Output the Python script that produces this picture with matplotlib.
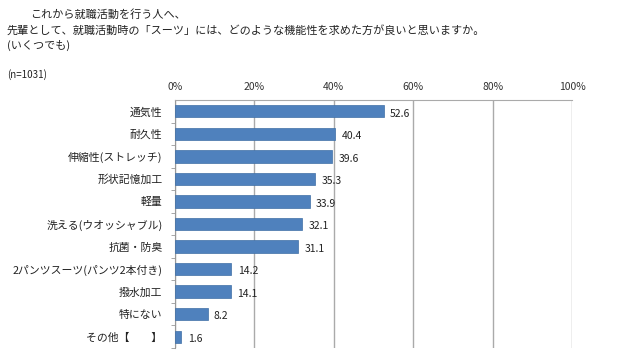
import matplotlib
matplotlib.use("Agg")
import matplotlib.pyplot as plt

plt.rcParams['font.family'] = ['Noto Sans CJK JP', 'DejaVu Sans']

# data (% of respondents, n=1031)
categories = ["通気性", "耐久性", "伸縮性(ストレッチ)", "形状記憶加工", "軽量",
              "洗える(ウオッシャブル)", "抗菌・防臭", "2パンツスーツ(パンツ2本付き)",
              "撥水加工", "特にない", "その他【　　】"]
values = [52.6, 40.4, 39.6, 35.3, 33.9, 32.1, 31.1, 14.2, 14.1, 8.2, 1.6]
tick_values = [0, 20, 40, 60, 80, 100]
tick_labels = ["0%", "20%", "40%", "60%", "80%", "100%"]

W, H = 634, 352
fig = plt.figure(figsize=(W / 100, H / 100), dpi=100)
fig.patch.set_facecolor("white")

# axes placed in pixel coords
left, right, top, bottom = 175, 572, 100, 348
ax = fig.add_axes([left / W, 1 - bottom / H, (right - left) / W, (bottom - top) / H])

pos = list(range(len(categories)))
ax.barh(pos, values, height=0.55, color="#4F81BD", edgecolor="#3F6FA6", linewidth=0.5, zorder=3)
for p, v in zip(pos, values):
    ax.text(v + 1.6, p + 0.1, f"{v:.1f}", va="center", ha="left", fontsize=7.5, color="#222222")

ax.set_xlim(0, 100)
ax.set_ylim(len(categories) - 0.5, -0.5)
ax.set_xticks(tick_values)
ax.set_xticklabels(tick_labels, fontsize=7.5, color="#333333")
ax.xaxis.tick_top()
ax.tick_params(axis="x", length=0, pad=6)
ax.set_yticks(pos)
ax.set_yticklabels(categories, fontsize=7.8, color="#222222")
ax.set_yticks([p + 0.5 for p in pos], minor=True)
ax.tick_params(axis="y", which="major", length=0, pad=9)
ax.tick_params(axis="y", which="minor", length=3, color="#999999")
ax.grid(axis="x", color="#AAAAAA", linewidth=1.0, zorder=0)
for s in ["right", "bottom"]:
    ax.spines[s].set_visible(False)
ax.spines["left"].set_color("#999999")
ax.spines["top"].set_color("#AAAAAA")

fig.text(30 / W, 1 - 15 / H, "これから就職活動を行う人へ、", fontsize=8, va="center", color="#222222")
fig.text(7 / W, 1 - 30 / H, "先輩として、就職活動時の「スーツ」には、どのような機能性を求めた方が良いと思いますか。",
         fontsize=8, va="center", color="#222222")
fig.text(7 / W, 1 - 45 / H, "(いくつでも)", fontsize=8, va="center", color="#222222")
fig.text(7 / W, 1 - 75 / H, "(n=1031)", fontsize=7, va="center", color="#222222")

fig.savefig("out.png", dpi=100, facecolor="white")
